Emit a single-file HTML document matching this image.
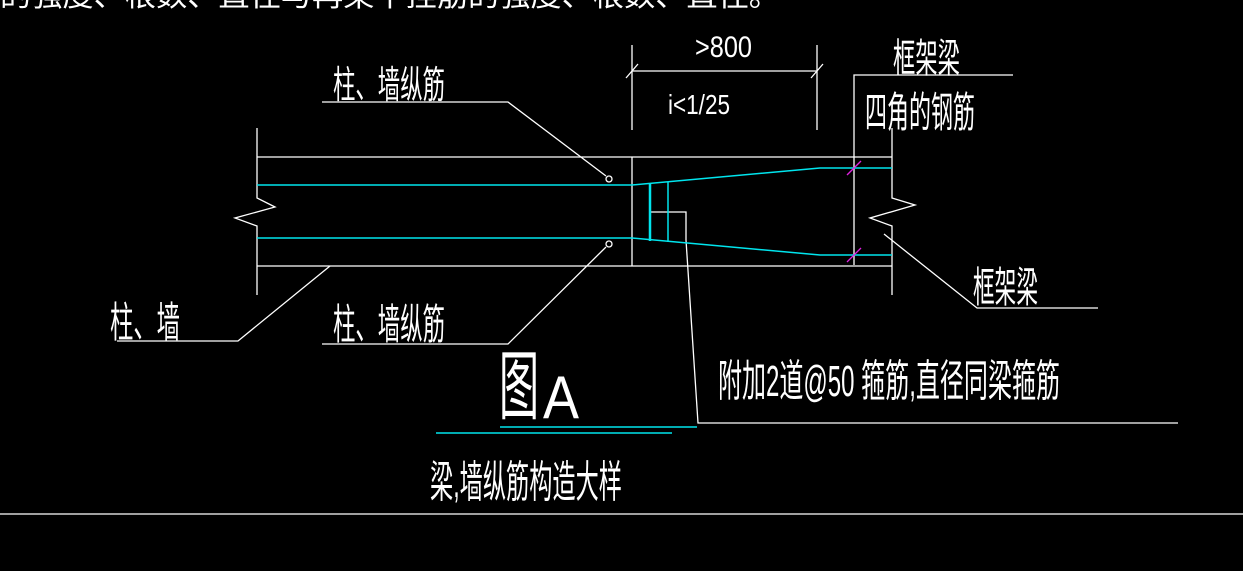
<!DOCTYPE html>
<html><head><meta charset="utf-8"><style>
html,body{margin:0;padding:0;background:#000;}
svg{display:block}
text{font-family:"Liberation Sans","Noto Sans CJK SC",sans-serif;fill:#fff;font-weight:normal}
</style></head><body>
<svg width="1243" height="571" viewBox="0 0 1243 571" xmlns="http://www.w3.org/2000/svg">
<rect width="1243" height="571" fill="#000"/>
<g stroke="#fff" stroke-width="1.3" fill="none">
<polyline points="257,128 257,198 275,207 235,218 257,226 257,295"/>
<line x1="257" y1="157" x2="892" y2="157"/>
<line x1="257" y1="266" x2="892" y2="266"/>
<line x1="632" y1="157" x2="632" y2="266"/>
<polyline points="892,128 892,198 915,205 870,218 892,226 892,295"/>
<polyline points="854,265 854,75 1013,75"/>
<line x1="632" y1="45" x2="632" y2="130"/>
<line x1="817" y1="45" x2="817" y2="130"/>
<line x1="632" y1="71" x2="817" y2="71"/>
<line x1="626" y1="78" x2="638" y2="64"/>
<line x1="811" y1="78" x2="823" y2="64"/>
<polyline points="322,102 508,102 606,176"/>
<circle cx="609" cy="179" r="3"/>
<circle cx="609" cy="244" r="3"/>
<polyline points="322,344 508,344 606,247"/>
<polyline points="117,341 238,341 330,266"/>
<polyline points="650,212 686,212 686,240 698,423 1178,423"/>
<polyline points="884,234 977,308 1098,308"/>
<line x1="0" y1="514" x2="1243" y2="514"/>
</g>
<g stroke="#00e5ee" stroke-width="1.5" fill="none">
<line x1="257" y1="185" x2="632" y2="185"/>
<line x1="257" y1="238" x2="632" y2="238"/>
<polyline points="632,185 820,168 892,168"/>
<polyline points="632,238 820,255 892,255"/>
<line x1="650" y1="183" x2="650" y2="241" stroke-width="2.5"/>
<line x1="668" y1="182" x2="668" y2="242"/>
<line x1="500" y1="427" x2="697" y2="427"/>
<line x1="436" y1="433" x2="672" y2="433"/>
</g>
<g stroke="#e020e0" stroke-width="1.3">
<line x1="847" y1="175" x2="861" y2="161"/>
<line x1="847" y1="262" x2="861" y2="248"/>
</g>
<text x="0" y="6" font-size="30" textLength="780" lengthAdjust="spacingAndGlyphs">的强度、根数、直径与再梁平挂筋的强度、根数、直径。</text>
<text x="333" y="98" font-size="38" textLength="112" lengthAdjust="spacingAndGlyphs">柱、墙纵筋</text>
<text x="695" y="57" font-size="30" textLength="57" lengthAdjust="spacingAndGlyphs">&gt;800</text>
<text x="668" y="114" font-size="28" textLength="62" lengthAdjust="spacingAndGlyphs">i&lt;1/25</text>
<text x="893" y="72" font-size="40" textLength="67" lengthAdjust="spacingAndGlyphs">框架梁</text>
<text x="865" y="127" font-size="42" textLength="110" lengthAdjust="spacingAndGlyphs">四角的钢筋</text>
<text x="973" y="302" font-size="42" textLength="65" lengthAdjust="spacingAndGlyphs">框架梁</text>
<text x="110" y="337" font-size="42" textLength="70" lengthAdjust="spacingAndGlyphs">柱、墙</text>
<text x="333" y="339" font-size="42" textLength="112" lengthAdjust="spacingAndGlyphs">柱、墙纵筋</text>
<text x="499" y="413" font-size="76" textLength="40" lengthAdjust="spacingAndGlyphs">图</text>
<text x="543" y="418" font-size="60" textLength="36" lengthAdjust="spacingAndGlyphs">A</text>
<text x="718" y="396" font-size="44" textLength="342" lengthAdjust="spacingAndGlyphs">附加2道@50 箍筋,直径同梁箍筋</text>
<text x="430" y="497" font-size="44" textLength="192" lengthAdjust="spacingAndGlyphs">梁,墙纵筋构造大样</text>
</svg>
</body></html>
